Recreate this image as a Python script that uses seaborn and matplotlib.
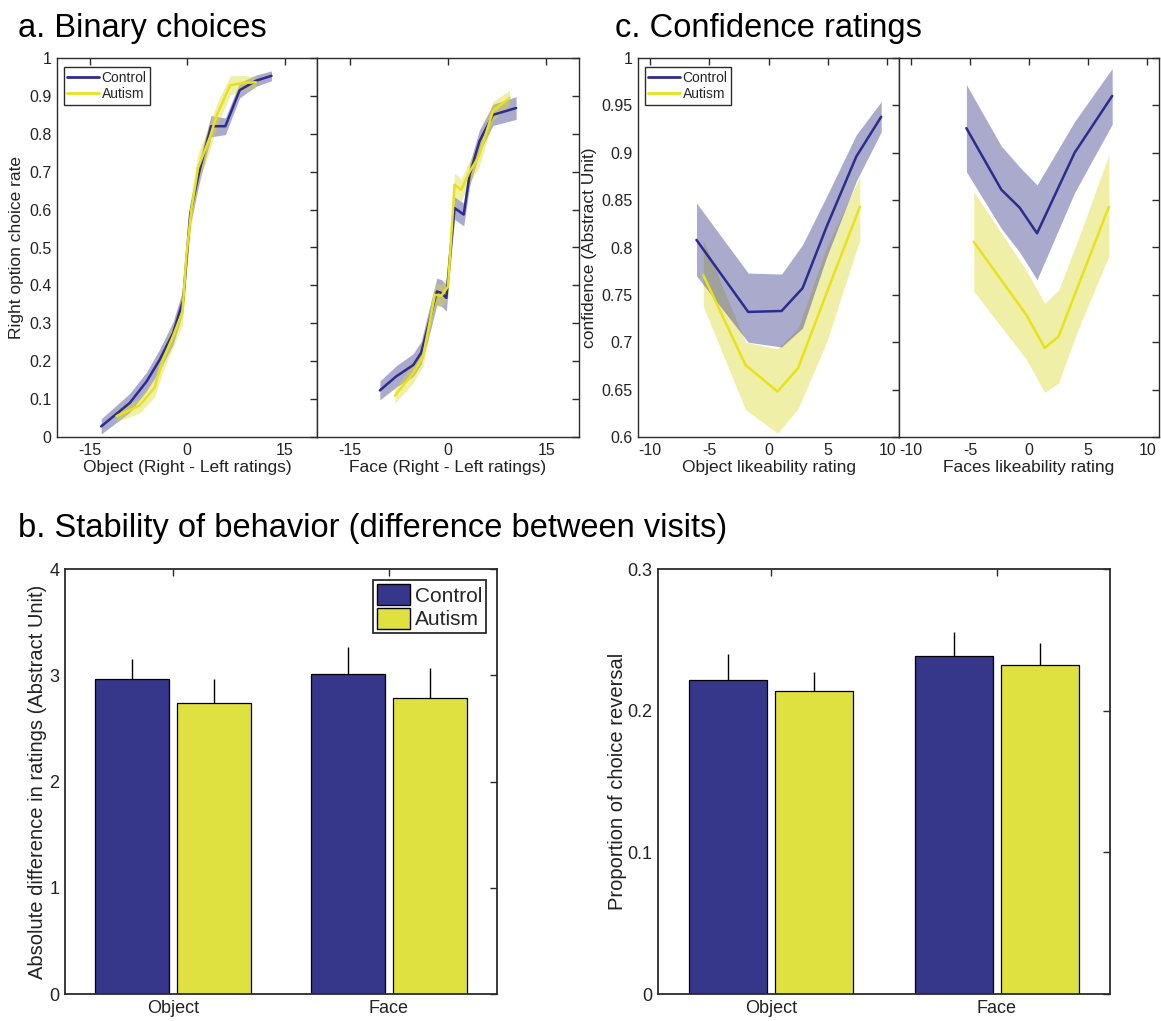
import numpy as np
import pandas as pd
import matplotlib
matplotlib.use('Agg')
import matplotlib.pyplot as plt
import seaborn as sns
from matplotlib import font_manager as fm
from matplotlib.patches import Patch
from matplotlib.lines import Line2D
from matplotlib.ticker import FuncFormatter

sns.set_theme(style='white')
names = {f.name for f in fm.fontManager.ttflist}
BASE = 'Liberation Sans' if 'Liberation Sans' in names else 'DejaVu Sans'
NARROW = 'Liberation Sans Narrow' if 'Liberation Sans Narrow' in names else BASE
plt.rcParams['font.family'] = [BASE, 'DejaVu Sans']
plt.rcParams['axes.unicode_minus'] = False

# ---------------- data ----------------
groups = ['Control', 'Autism']

# a. Binary choices - Object
obj_ctrl_x = [-13.2, -8.8, -6.2, -4.2, -2.15, -0.6, 0.5, 1.95, 3.7, 5.9, 8.1, 10.6, 13.0]
obj_ctrl_y = [0.028, 0.09, 0.147, 0.204, 0.274, 0.36, 0.59, 0.705, 0.82, 0.82, 0.915, 0.94, 0.953]
obj_ctrl_e = [0.02, 0.025, 0.025, 0.028, 0.03, 0.03, 0.03, 0.03, 0.028, 0.022, 0.02, 0.015, 0.013]
obj_aut_x = [-10.85, -7.3, -5.0, -3.7, -2.15, -0.7, -0.1, 0.67, 1.7, 3.5, 4.6, 6.65, 8.6, 10.6]
obj_aut_y = [0.055, 0.083, 0.13, 0.204, 0.266, 0.33, 0.477, 0.6, 0.71, 0.79, 0.85, 0.928, 0.934, 0.936]
obj_aut_e = [0.015, 0.02, 0.025, 0.03, 0.03, 0.035, 0.04, 0.04, 0.04, 0.035, 0.03, 0.025, 0.02, 0.015]

# a. Binary choices - Face
face_ctrl_x = [-10.4, -7.9, -5.3, -4.1, -3.05, -1.7, -1.0, -0.25, 0.25, 1.0, 2.4, 3.3, 4.8, 6.86, 10.4]
face_ctrl_y = [0.123, 0.16, 0.19, 0.222, 0.292, 0.384, 0.38, 0.367, 0.468, 0.604, 0.587, 0.692, 0.78, 0.85, 0.868]
face_ctrl_e = [0.025, 0.028, 0.03, 0.03, 0.035, 0.035, 0.035, 0.035, 0.035, 0.03, 0.03, 0.03, 0.03, 0.028, 0.03]
face_aut_x = [-8.1, -5.3, -3.8, -2.0, -1.0, 0.0, 1.0, 2.0, 3.3, 4.7, 6.86, 9.4]
face_aut_y = [0.109, 0.169, 0.213, 0.375, 0.373, 0.397, 0.666, 0.652, 0.70, 0.74, 0.86, 0.895]
face_aut_e = [0.02, 0.025, 0.025, 0.03, 0.03, 0.03, 0.03, 0.03, 0.03, 0.03, 0.025, 0.02]

# c. Confidence ratings - Object
cobj_ctrl_x = [-6.07, -1.71, 1.1, 2.87, 4.9, 7.4, 9.5]
cobj_ctrl_y = [0.808, 0.732, 0.733, 0.757, 0.822, 0.896, 0.938]
cobj_ctrl_lo = [0.770, 0.700, 0.695, 0.715, 0.790, 0.870, 0.922]
cobj_ctrl_hi = [0.847, 0.773, 0.772, 0.803, 0.854, 0.919, 0.954]
cobj_aut_x = [-5.5, -1.94, 0.76, 2.5, 4.9, 7.7]
cobj_aut_y = [0.771, 0.676, 0.648, 0.673, 0.752, 0.843]
cobj_aut_lo = [0.738, 0.629, 0.604, 0.630, 0.700, 0.808]
cobj_aut_hi = [0.808, 0.700, 0.693, 0.715, 0.800, 0.875]

# c. Confidence ratings - Faces
cface_ctrl_x = [-5.3, -2.34, -0.79, 0.68, 3.86, 7.04]
cface_ctrl_y = [0.926, 0.861, 0.842, 0.815, 0.900, 0.960]
cface_ctrl_lo = [0.880, 0.820, 0.795, 0.766, 0.858, 0.930]
cface_ctrl_hi = [0.972, 0.907, 0.885, 0.866, 0.933, 0.989]
cface_aut_x = [-4.68, -0.23, 1.33, 2.5, 4.14, 6.76]
cface_aut_y = [0.806, 0.729, 0.694, 0.706, 0.759, 0.843]
cface_aut_lo = [0.754, 0.682, 0.647, 0.657, 0.713, 0.791]
cface_aut_hi = [0.859, 0.776, 0.741, 0.755, 0.808, 0.898]

# b. Stability of behavior
bar_cats = ['Object', 'Face']
ratings_ctrl = [2.964, 3.014]
ratings_aut = [2.738, 2.788]
ratings_ctrl_err = [3.155, 3.265]
ratings_aut_err = [2.964, 3.070]
rev_ctrl = [0.2218, 0.2388]
rev_aut = [0.2140, 0.2322]
rev_ctrl_err = [0.2400, 0.2552]
rev_aut_err = [0.2270, 0.2477]

# ---------------- style ----------------
CTRL_LINE = '#2D2B8C'
AUT_LINE = '#E9E21A'
CTRL_BAND = '#35358A'
AUT_BAND = '#DCDA30'
CTRL_BAR = '#36368A'
AUT_BAR = '#DFE141'
SPINE = '#2b2b2b'
TXT = '#222222'

fig = plt.figure(figsize=(11.61, 10.21), dpi=100)
W, H = 1161, 1021


def ax_px(x0, y0, x1, y1):
    return fig.add_axes([x0 / W, 1 - y1 / H, (x1 - x0) / W, (y1 - y0) / H])


def style(ax, fs=11.5):
    for s in ax.spines.values():
        s.set_visible(True)
        s.set_color(SPINE)
        s.set_linewidth(1.0)
    ax.tick_params(direction='in', top=True, right=True, length=5, width=1,
                   color=SPINE, labelsize=fs, labelcolor=TXT, pad=4)
    ax.grid(False)


def curve(ax, x, y, lo, hi, g, lw=1.8):
    df = pd.DataFrame({'x': x, 'y': y, 'group': g})
    col = CTRL_LINE if g == 'Control' else AUT_LINE
    band = CTRL_BAND if g == 'Control' else AUT_BAND
    ax.fill_between(x, lo, hi, color=band, alpha=0.42, linewidth=0)
    sns.lineplot(data=df, x='x', y='y', color=col, lw=lw, ax=ax, legend=False,
                 estimator=None, sort=False)


def curve_e(ax, x, y, e, g, lw=1.8):
    lo = [a - b for a, b in zip(y, e)]
    hi = [a + b for a, b in zip(y, e)]
    curve(ax, x, y, lo, hi, g, lw)


fmt = FuncFormatter(lambda v, p: ('%g' % round(v, 3)))
LAB = 12.5

# ---- panel a ----
axa1 = ax_px(57, 58, 317, 437)
axa2 = ax_px(317, 58, 579, 437)
curve_e(axa1, obj_ctrl_x, obj_ctrl_y, obj_ctrl_e, 'Control')
curve_e(axa1, obj_aut_x, obj_aut_y, obj_aut_e, 'Autism')
curve_e(axa2, face_ctrl_x, face_ctrl_y, face_ctrl_e, 'Control')
curve_e(axa2, face_aut_x, face_aut_y, face_aut_e, 'Autism')
for ax in (axa1, axa2):
    style(ax)
    ax.set_xlim(-20, 20)
    ax.set_ylim(0, 1)
    ax.set_xticks([-15, 0, 15])
    ax.set_yticks(np.arange(0, 1.01, 0.1))
    ax.yaxis.set_major_formatter(fmt)
axa2.set_yticklabels([])
axa1.set_ylabel('Right option choice rate', fontsize=LAB, color=TXT, labelpad=4)
axa1.set_xlabel('Object (Right - Left ratings)', fontsize=LAB, color=TXT, labelpad=2)
axa2.set_xlabel('Face (Right - Left ratings)', fontsize=LAB, color=TXT, labelpad=2)
axa2.set_ylabel('')
line_handles = [Line2D([], [], color=CTRL_LINE, lw=2), Line2D([], [], color=AUT_LINE, lw=2)]
leg = axa1.legend(line_handles, groups, loc='upper left', fontsize=10, frameon=True,
                  fancybox=False, framealpha=1, edgecolor=SPINE, borderpad=0.25,
                  handlelength=2.3, handletextpad=0.2, labelspacing=0.15,
                  bbox_to_anchor=(0.025, 0.975), borderaxespad=0)
leg.get_frame().set_linewidth(1.0)

# ---- panel c ----
axc1 = ax_px(638, 58, 899, 437)
axc2 = ax_px(899, 58, 1159, 437)
curve(axc1, cobj_aut_x, cobj_aut_y, cobj_aut_lo, cobj_aut_hi, 'Autism')
curve(axc1, cobj_ctrl_x, cobj_ctrl_y, cobj_ctrl_lo, cobj_ctrl_hi, 'Control')
curve(axc2, cface_aut_x, cface_aut_y, cface_aut_lo, cface_aut_hi, 'Autism')
curve(axc2, cface_ctrl_x, cface_ctrl_y, cface_ctrl_lo, cface_ctrl_hi, 'Control')
for ax in (axc1, axc2):
    style(ax)
    ax.set_xlim(-11, 11)
    ax.set_ylim(0.6, 1)
    ax.set_xticks([-10, -5, 0, 5, 10])
    ax.set_yticks(np.arange(0.6, 1.001, 0.05))
    ax.yaxis.set_major_formatter(fmt)
axc2.set_yticklabels([])
axc1.set_ylabel('confidence (Abstract Unit)', fontsize=LAB, color=TXT, labelpad=3)
axc1.set_xlabel('Object likeability rating', fontsize=LAB, color=TXT, labelpad=2)
axc2.set_xlabel('Faces likeability rating', fontsize=LAB, color=TXT, labelpad=2)
axc2.set_ylabel('')
leg = axc1.legend(line_handles, groups, loc='upper left', fontsize=10, frameon=True,
                  fancybox=False, framealpha=1, edgecolor=SPINE, borderpad=0.25,
                  handlelength=2.3, handletextpad=0.2, labelspacing=0.15,
                  bbox_to_anchor=(0.025, 0.975), borderaxespad=0)
leg.get_frame().set_linewidth(1.0)


# ---- panel b ----
def bars(ax, ctrl, aut, ctrl_err, aut_err, ylim, yticks, ylabel, lpad):
    df = pd.DataFrame({'cond': bar_cats * 2,
                       'val': list(ctrl) + list(aut),
                       'group': ['Control'] * 2 + ['Autism'] * 2})
    sns.barplot(data=df, x='cond', y='val', hue='group', hue_order=groups,
                palette=[CTRL_BAR, AUT_BAR], width=0.76, gap=0.09,
                edgecolor='black', linewidth=0.9, errorbar=None, ax=ax,
                legend=False, saturation=1)
    for cont, errs in zip(ax.containers, [ctrl_err, aut_err]):
        for rect, e in zip(cont, errs):
            xc = rect.get_x() + rect.get_width() / 2
            ax.vlines(xc, rect.get_height(), e, color='black', lw=1.0, zorder=1)
    style(ax, fs=13)
    ax.set_xlim(-0.5, 1.5)
    ax.set_ylim(*ylim)
    ax.set_yticks(yticks)
    ax.yaxis.set_major_formatter(fmt)
    ax.set_xlabel('')
    ax.set_ylabel(ylabel, fontsize=14.5, family=[NARROW, 'DejaVu Sans'], color=TXT, labelpad=lpad)
    for t in ax.get_xticklabels() + ax.get_yticklabels():
        t.set_family([NARROW, 'DejaVu Sans'])
    for s in ax.spines.values():
        s.set_linewidth(1.3)


axb1 = ax_px(65, 569, 497, 994)
axb2 = ax_px(658, 569, 1110, 994)
bars(axb1, ratings_ctrl, ratings_aut, ratings_ctrl_err, ratings_aut_err,
     (0, 4), [0, 1, 2, 3, 4], 'Absolute difference in ratings (Abstract Unit)', 2)
bars(axb2, rev_ctrl, rev_aut, rev_ctrl_err, rev_aut_err,
     (0, 0.3), [0, 0.1, 0.2, 0.3], 'Proportion of choice reversal', 0)
bar_handles = [Patch(facecolor=CTRL_BAR, edgecolor='black'), Patch(facecolor=AUT_BAR, edgecolor='black')]
leg = axb1.legend(bar_handles, groups, loc='upper right', frameon=True,
                  fancybox=False, framealpha=1, edgecolor=SPINE, borderpad=0.2,
                  handlelength=1.6, handleheight=1.2, handletextpad=0.2, labelspacing=0.1,
                  bbox_to_anchor=(0.975, 0.975), borderaxespad=0,
                  prop={'family': [NARROW, 'DejaVu Sans'], 'size': 15})
leg.get_frame().set_linewidth(1.3)

# ---- titles ----
fig.text(18 / W, 1 - 28 / H, 'a. Binary choices', fontsize=23.5, va='center', ha='left', color='black')
fig.text(615 / W, 1 - 28 / H, 'c. Confidence ratings', fontsize=23.5, va='center', ha='left', color='black')
fig.text(18 / W, 1 - 528 / H, 'b. Stability of behavior (difference between visits)',
         fontsize=23.5, va='center', ha='left', color='black', family=[NARROW, 'DejaVu Sans'])

fig.savefig('out.png', dpi=100)
